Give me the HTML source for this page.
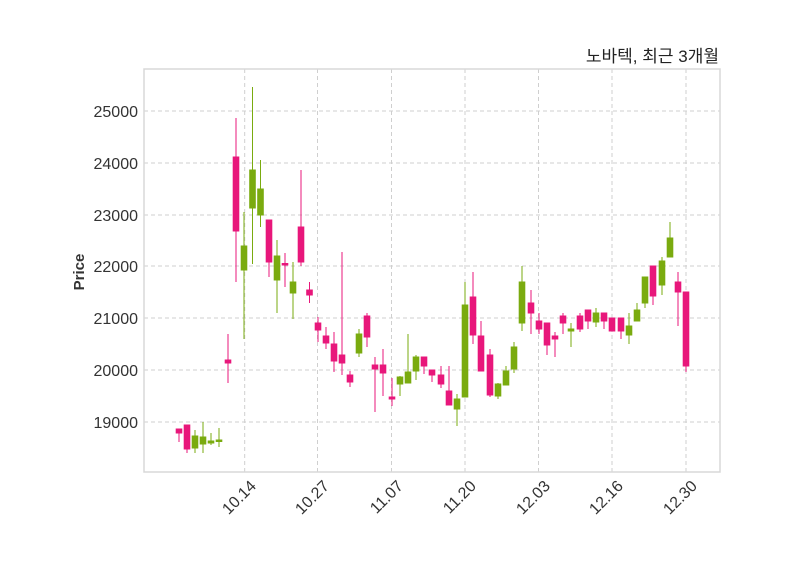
<!DOCTYPE html>
<html><head><meta charset="utf-8"><style>body{margin:0;background:#fff}svg{display:block}</style></head><body>
<svg width="800" height="575" xmlns="http://www.w3.org/2000/svg" font-family="Liberation Sans, DejaVu Sans, sans-serif">
<rect width="800" height="575" fill="#fff"/>
<g stroke="#cfcfcf" stroke-dasharray="4,3" stroke-width="1">
<line x1="144" x2="720" y1="111" y2="111"/><line x1="144" x2="720" y1="163" y2="163"/><line x1="144" x2="720" y1="215" y2="215"/><line x1="144" x2="720" y1="266" y2="266"/><line x1="144" x2="720" y1="318" y2="318"/><line x1="144" x2="720" y1="370" y2="370"/><line x1="144" x2="720" y1="422" y2="422"/>
<line y1="69" y2="472" x1="244.7" x2="244.7"/><line y1="69" y2="472" x1="317.5" x2="317.5"/><line y1="69" y2="472" x1="391.5" x2="391.5"/><line y1="69" y2="472" x1="465" x2="465"/><line y1="69" y2="472" x1="538.5" x2="538.5"/><line y1="69" y2="472" x1="612" x2="612"/><line y1="69" y2="472" x1="686" x2="686"/>
</g>
<rect x="144" y="69" width="576" height="403" fill="none" stroke="#d8d8d8" stroke-width="1.5"/>
<g stroke="#e8177b" fill="#e8177b">
<line x1="179" x2="179" y1="429" y2="442"/><rect x="176.2" y="429" width="5.6" height="4"/>
<line x1="187" x2="187" y1="425" y2="453"/><rect x="184.2" y="425" width="5.6" height="24"/>
<line x1="228" x2="228" y1="334" y2="383"/><rect x="225.2" y="360" width="5.6" height="3"/>
<line x1="236" x2="236" y1="118" y2="282"/><rect x="233.2" y="157" width="5.6" height="74"/>
<line x1="269" x2="269" y1="220" y2="277"/><rect x="266.2" y="220" width="5.6" height="42"/>
<line x1="285" x2="285" y1="253" y2="287"/><rect x="282.2" y="263.5" width="5.6" height="1.5"/>
<line x1="301" x2="301" y1="170" y2="266"/><rect x="298.2" y="227" width="5.6" height="35"/>
<line x1="309.5" x2="309.5" y1="282" y2="303"/><rect x="306.7" y="290" width="5.6" height="5"/>
<line x1="318" x2="318" y1="317" y2="342"/><rect x="315.2" y="323" width="5.6" height="7"/>
<line x1="326" x2="326" y1="327" y2="349"/><rect x="323.2" y="336" width="5.6" height="7"/>
<line x1="334" x2="334" y1="332" y2="372"/><rect x="331.2" y="344" width="5.6" height="17"/>
<line x1="342" x2="342" y1="252" y2="375"/><rect x="339.2" y="355" width="5.6" height="8"/>
<line x1="350" x2="350" y1="371" y2="387"/><rect x="347.2" y="375" width="5.6" height="7"/>
<line x1="367" x2="367" y1="313" y2="347"/><rect x="364.2" y="316" width="5.6" height="21"/>
<line x1="375" x2="375" y1="357" y2="412"/><rect x="372.2" y="365" width="5.6" height="4"/>
<line x1="383" x2="383" y1="349" y2="396"/><rect x="380.2" y="365" width="5.6" height="8"/>
<line x1="392" x2="392" y1="378" y2="406"/><rect x="389.2" y="397" width="5.6" height="2"/>
<line x1="424" x2="424" y1="357" y2="374"/><rect x="421.2" y="357" width="5.6" height="9"/>
<line x1="432" x2="432" y1="370" y2="382"/><rect x="429.2" y="370" width="5.6" height="5"/>
<line x1="441" x2="441" y1="366" y2="388"/><rect x="438.2" y="375" width="5.6" height="9"/>
<line x1="449" x2="449" y1="366" y2="405"/><rect x="446.2" y="391" width="5.6" height="14"/>
<line x1="473" x2="473" y1="272" y2="344"/><rect x="470.2" y="297" width="5.6" height="38"/>
<line x1="481" x2="481" y1="321" y2="371"/><rect x="478.2" y="336" width="5.6" height="35"/>
<line x1="490" x2="490" y1="349" y2="397"/><rect x="487.2" y="355" width="5.6" height="40"/>
<line x1="531" x2="531" y1="290" y2="334"/><rect x="528.2" y="303" width="5.6" height="10"/>
<line x1="539" x2="539" y1="313" y2="334"/><rect x="536.2" y="321" width="5.6" height="8"/>
<line x1="547" x2="547" y1="323" y2="355"/><rect x="544.2" y="323" width="5.6" height="22"/>
<line x1="555" x2="555" y1="332" y2="357"/><rect x="552.2" y="336" width="5.6" height="3"/>
<line x1="563" x2="563" y1="313" y2="334"/><rect x="560.2" y="316" width="5.6" height="7"/>
<line x1="580" x2="580" y1="313" y2="332"/><rect x="577.2" y="316" width="5.6" height="13"/>
<line x1="588" x2="588" y1="310" y2="329"/><rect x="585.2" y="310" width="5.6" height="11"/>
<line x1="604" x2="604" y1="313" y2="329"/><rect x="601.2" y="313" width="5.6" height="8"/>
<line x1="612" x2="612" y1="318" y2="331"/><rect x="609.2" y="318" width="5.6" height="13"/>
<line x1="621" x2="621" y1="318" y2="339"/><rect x="618.2" y="318" width="5.6" height="13"/>
<line x1="653" x2="653" y1="266" y2="305"/><rect x="650.2" y="266" width="5.6" height="30"/>
<line x1="678" x2="678" y1="272" y2="326"/><rect x="675.2" y="282" width="5.6" height="10"/>
<line x1="686" x2="686" y1="292" y2="372"/><rect x="683.2" y="292" width="5.6" height="74"/>
</g>
<g stroke="#7aab0f" fill="#7aab0f">
<line x1="195" x2="195" y1="430" y2="453"/><rect x="192.2" y="436" width="5.6" height="12"/>
<line x1="203" x2="203" y1="422" y2="453"/><rect x="200.2" y="437" width="5.6" height="7"/>
<line x1="211" x2="211" y1="433" y2="445"/><rect x="208.2" y="441" width="5.6" height="2"/>
<line x1="219" x2="219" y1="428" y2="447"/><rect x="216.2" y="440" width="5.6" height="1.5"/>
<line x1="244" x2="244" y1="212" y2="339"/><rect x="241.2" y="246" width="5.6" height="24"/>
<line x1="252.5" x2="252.5" y1="87" y2="264"/><rect x="249.7" y="170" width="5.6" height="38"/>
<line x1="260.5" x2="260.5" y1="160" y2="227"/><rect x="257.7" y="189" width="5.6" height="26"/>
<line x1="277" x2="277" y1="240" y2="313"/><rect x="274.2" y="256" width="5.6" height="24"/>
<line x1="293" x2="293" y1="262" y2="319"/><rect x="290.2" y="282" width="5.6" height="11"/>
<line x1="359" x2="359" y1="329" y2="357"/><rect x="356.2" y="334" width="5.6" height="19"/>
<line x1="400" x2="400" y1="376" y2="396"/><rect x="397.2" y="377" width="5.6" height="7"/>
<line x1="408" x2="408" y1="334" y2="383"/><rect x="405.2" y="372" width="5.6" height="11"/>
<line x1="416" x2="416" y1="355" y2="380"/><rect x="413.2" y="357" width="5.6" height="14"/>
<line x1="457" x2="457" y1="394" y2="426"/><rect x="454.2" y="399" width="5.6" height="10"/>
<line x1="465" x2="465" y1="282" y2="397"/><rect x="462.2" y="305" width="5.6" height="92"/>
<line x1="498" x2="498" y1="383" y2="399"/><rect x="495.2" y="384" width="5.6" height="12"/>
<line x1="506" x2="506" y1="366" y2="385"/><rect x="503.2" y="371" width="5.6" height="14"/>
<line x1="514" x2="514" y1="342" y2="373"/><rect x="511.2" y="347" width="5.6" height="22"/>
<line x1="522" x2="522" y1="266" y2="331"/><rect x="519.2" y="282" width="5.6" height="41"/>
<line x1="571" x2="571" y1="323" y2="347"/><rect x="568.2" y="329" width="5.6" height="2"/>
<line x1="596" x2="596" y1="308" y2="327"/><rect x="593.2" y="313" width="5.6" height="9"/>
<line x1="629" x2="629" y1="313" y2="344"/><rect x="626.2" y="326" width="5.6" height="9"/>
<line x1="637" x2="637" y1="303" y2="321"/><rect x="634.2" y="310" width="5.6" height="11"/>
<line x1="645" x2="645" y1="277" y2="308"/><rect x="642.2" y="277" width="5.6" height="26"/>
<line x1="662" x2="662" y1="257" y2="295"/><rect x="659.2" y="261" width="5.6" height="24"/>
<line x1="670" x2="670" y1="222" y2="257"/><rect x="667.2" y="238" width="5.6" height="19"/>
</g>
<g font-size="16" fill="#333" text-anchor="end">
<text x="138" y="117">25000</text><text x="138" y="169">24000</text><text x="138" y="221">23000</text><text x="138" y="272">22000</text><text x="138" y="324">21000</text><text x="138" y="376">20000</text><text x="138" y="428">19000</text>
</g>
<g font-size="16" fill="#333" text-anchor="end">
<text transform="translate(257,487) rotate(-45)">10.14</text>
<text transform="translate(330,487) rotate(-45)">10.27</text>
<text transform="translate(404,487) rotate(-45)">11.07</text>
<text transform="translate(477,487) rotate(-45)">11.20</text>
<text transform="translate(551,487) rotate(-45)">12.03</text>
<text transform="translate(624,487) rotate(-45)">12.16</text>
<text transform="translate(698,487) rotate(-45)">12.30</text>
</g>
<text transform="translate(84,272) rotate(-90)" font-size="15" font-weight="bold" fill="#333" text-anchor="middle">Price</text>
<text x="719" y="62" font-size="17" fill="#222" text-anchor="end" font-family="Liberation Sans, Noto Sans CJK KR, sans-serif">노바텍, 최근 3개월</text>
</svg>
</body></html>
